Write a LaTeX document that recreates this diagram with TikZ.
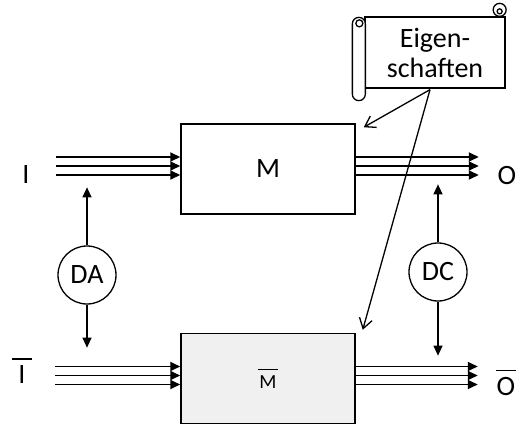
\documentclass[tikz,border=0pt]{standalone}
\usepackage{fontspec}
\setmainfont{Carlito}
\usetikzlibrary{arrows.meta, positioning, calc}
\definecolor{boxgray}{RGB}{240,240,240}
\newcommand{\barred}[2]{\vbox{\hrule height 1.5pt width #1\kern 5.5pt\hbox to #1{\hss #2\hss}}}

\begin{document}
\begin{tikzpicture}[
    x = 1pt, y = -1pt,
    node distance = 118pt,
    font          = \fontsize{28}{30}\selectfont,
    box/.style    = {draw, line width=1.5pt, minimum width=174pt,
                     minimum height=90pt},
    circ/.style   = {draw, circle, line width=1.3pt, minimum size=58pt,
                     inner sep=0pt},
    lbl/.style    = {inner sep=0pt, anchor=base},
    scr/.style    = {draw, line width=1.3pt, fill=white},
    par/.style    = {-{Triangle[length=10pt, width=9pt]}, line width=1.8pt},
    arr/.style    = {-{Triangle[length=10pt, width=9pt]}, line width=1.2pt},
    barb/.style   = {-{Straight Barb[length=10pt, width=13pt]}, line width=1.3pt},
  ]
  \useasboundingbox (0,0) rectangle (517,425);

  % models
  \node[box] (M) at (268,169) {M};
  \node[box, fill=boxgray, below=of M, font=\fontsize{20}{24}\selectfont] (Mb) {\barred{20pt}{M}};

  % inputs and outputs
  \node[lbl] (I)  at (26,183)  {I};
  \node[lbl] (O)  at (507,185) {O};
  \node[lbl] (Ib) at (22,383)  {\barred{20pt}{I}};
  \node[lbl] (Ob) at (506,395) {\barred{20pt}{O}};
  \foreach \dy in {-12,-3,6} {
    \draw[par] ($(M.west)+(-124,\dy)$) -- ($(M.west)+(0,\dy)$);
    \draw[par] ($(M.east)+(0,\dy)$) -- ($(M.east)+(123,\dy)$);
    \draw[par] ($(Mb.west)+(-125,\dy)$) -- ($(Mb.west)+(0,\dy)$);
    \draw[par] ($(Mb.east)+(0,\dy)$) -- ($(Mb.east)+(122,\dy)$);
  }

  % abstraction / concretion
  \node[circ] (DA) at (87,275)  {DA};
  \node[circ] (DC) at (438,272) {DC};
  \draw[arr] (DA.north) -- ($(DA.north)+(0,-58)$);
  \draw[arr] (DA.south) -- ($(DA.south)+(0,43)$);
  \draw[arr] (DC.north) -- ($(DC.north)+(0,-58)$);
  \draw[arr] (DC.south) -- ($(DC.south)+(0,54)$);

  % scroll
  \node[scr, minimum width=140pt, minimum height=71pt, inner sep=0pt,
        align=center] (E) at (435,52.5) {Eigen-\\schaften};
  \draw[scr, rounded corners=6.5pt] ($(E.north west)+(-12,1)$) rectangle ($(E.south west)+(1,12)$);
  \draw[line width=1.3pt] ($(E.north west)+(-5,7)$) circle (3.5pt);
  \draw[scr] ($(E.north east)+(-6,-6.5)$) circle (6.5pt);
  \draw[line width=1.3pt] ($(E.north east)+(-6,-5)$) circle (2.5pt);

  \coordinate (Es) at ($(E.south)+(-5,1)$);
  \coordinate (T1) at ($(M.north east)+(8,4)$);
  \coordinate (T2) at ($(Mb.north east)+(7,-3)$);
  \draw[barb] (Es) -- (T1);
  \draw[barb] (Es) -- (T2);
\end{tikzpicture}
\end{document}
